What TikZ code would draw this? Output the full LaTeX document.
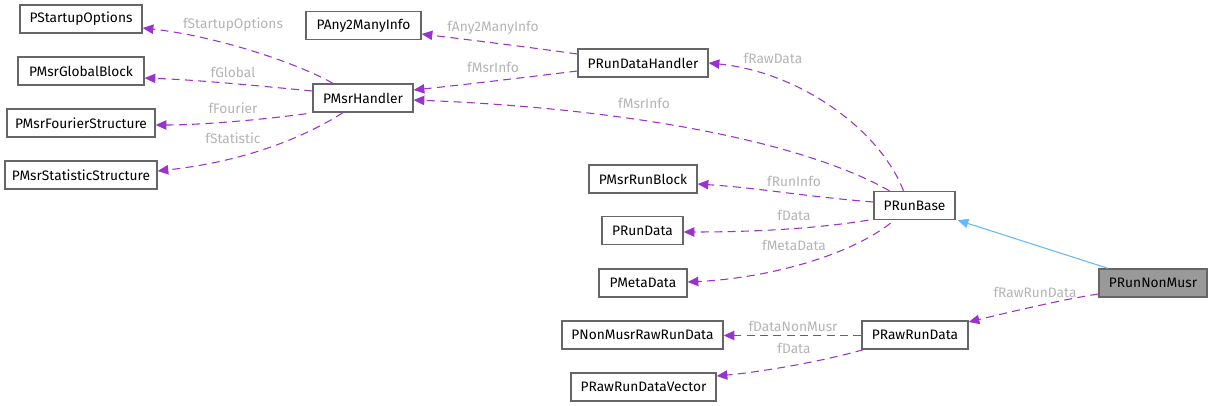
\documentclass[tikz,border=0pt]{standalone}
\usepackage{fontspec}
\setmainfont{Fira Sans}
\usetikzlibrary{arrows.meta,calc}
\definecolor{edgepurple}{HTML}{9A32CD}
\definecolor{inhblue}{HTML}{63B8FF}
\definecolor{boxgray}{HTML}{666666}
\definecolor{lblgray}{HTML}{B4B4B4}
\definecolor{curfill}{HTML}{999999}
\tikzset{
  box/.style={draw=boxgray, line width=1pt, fill=white, minimum height=21pt, inner sep=0pt, font=\fontsize{10.3}{12}\selectfont},
  cur/.style={box, fill=curfill},
  rel/.style={draw=edgepurple, line width=0.8pt, dash pattern=on 6pt off 4pt, -{Triangle[length=8pt,width=7pt]}},
  inh/.style={draw=inhblue, line width=0.8pt, -{Triangle[length=8pt,width=7pt]}},
  lbl/.style={text=lblgray, inner sep=0pt, font=\fontsize{10.3}{12}\selectfont},
}
\begin{document}
\begin{tikzpicture}[x=0.75pt,y=-0.75pt]
\useasboundingbox (0,0) rectangle (1212,406);
% nodes
\node[box, minimum width=91.5pt] (so) at (81,19) {PStartupOptions};
\node[box, minimum width=94.5pt] (gb) at (81,71) {PMsrGlobalBlock};
\node[box, minimum width=111pt] (fs) at (81,123) {PMsrFourierStructure};
\node[box, minimum width=114pt] (ss) at (81,175) {PMsrStatisticStructure};
\node[box, minimum width=75pt] (mh) at (363,98) {PMsrHandler};
\node[box, minimum width=86.25pt] (a2m) at (363.5,25.5) {PAny2ManyInfo};
\node[box, minimum width=97.5pt] (rdh) at (643,63) {PRunDataHandler};
\node[box, minimum width=81pt] (mrb) at (643,179) {PMsrRunBlock};
\node[box, minimum width=60.75pt] (rd) at (642.5,230.5) {PRunData};
\node[box, minimum width=66pt] (md) at (643,283) {PMetaData};
\node[box, minimum width=60.75pt] (rb) at (914.5,205.5) {PRunBase};
\node[box, minimum width=120.75pt] (nmr) at (642.5,335) {PNonMusrRawRunData};
\node[box, minimum width=79.5pt] (rrd) at (915,335) {PRawRunData};
\node[box, minimum width=108.75pt] (rrv) at (643.5,387) {PRawRunDataVector};
\node[cur, minimum width=81pt] (rnm) at (1153,283) {PRunNonMusr};
% edges from PMsrHandler
\draw[rel] ($(mh.north)+(-30,0)$) .. controls (295,62) and (215,36) .. ($(so.east)+(0,9)$);
\draw[rel] ($(mh.west)+(0,-7)$) .. controls (260,86) and (200,80) .. ($(gb.east)+(0,7)$);
\draw[rel] ($(mh.south west)+(-6,1)$) .. controls (260,120) and (200,125) .. ($(fs.east)+(0,2)$);
\draw[rel] ($(mh.south)+(-20,0)$) .. controls (300,140) and (240,162) .. ($(ss.east)+(0,-4)$);
% edges from PRunDataHandler
\draw[rel] ($(rdh.west)+(0,-9)$) .. controls (520,46) and (470,40) .. ($(a2m.east)+(0,8.5)$);
\draw[rel] ($(rdh.west)+(0,8)$) .. controls (520,78) and (470,84) .. ($(mh.east)+(0,-8)$);
% edges from PRunBase
\draw[rel] ($(rb.north)+(-25,0)$) .. controls (800,140) and (620,108) .. ($(mh.east)+(0,2)$);
\draw[rel] ($(rb.north)+(-11,0)$) .. controls (880,130) and (800,72) .. ($(rdh.east)+(0,0)$);
\draw[rel] ($(rb.west)+(0,-3.5)$) .. controls (800,196) and (760,188) .. ($(mrb.east)+(0,5)$);
\draw[rel] ($(rb.south west)+(-5,0)$) .. controls (820,228) and (760,232) .. ($(rd.east)+(0,1.5)$);
\draw[rel] ($(rb.south)+(-24,3)$) .. controls (850,255) and (770,278) .. ($(md.east)+(0,-1)$);
% inheritance
\draw[inh] ($(rnm.north)+(-45,0)$) -- ($(rb.south east)+(2,0)$);
% PRunNonMusr -> PRawRunData
\draw[rel] ($(rnm.west)+(0,11)$) .. controls (1060,300) and (1010,312) .. ($(rrd.east)+(0,-13)$);
% PRawRunData edges
\draw[rel] ($(rrd.west)+(0,0.5)$) -- ($(nmr.east)+(0,0.5)$);
\draw[rel] ($(rrd.south west)+(2,0)$) .. controls (820,362) and (760,372) .. ($(rrv.east)+(0,-11)$);
% labels
\node[lbl] (l1) at (233,25) {fStartupOptions};
\node[lbl] (l2) at (233,72) {fGlobal};
\node[lbl] (l3) at (233,108) {fFourier};
\node[lbl] (l4) at (233,138) {fStatistic};
\node[lbl] (l5) at (493,28) {fAny2ManyInfo};
\node[lbl] (l6) at (493,67) {fMsrInfo};
\node[lbl] (l7) at (644,103) {fMsrInfo};
\node[lbl] (l8) at (773,58) {fRawData};
\node[lbl] (l9) at (794,181) {fRunInfo};
\node[lbl] (l10) at (794,215) {fData};
\node[lbl] (l11) at (794,245) {fMetaData};
\node[lbl] (l12) at (1035,292) {fRawRunData};
\node[lbl] (l13) at (793,326) {fDataNonMusr};
\node[lbl] (l14) at (794,348) {fData};
\end{tikzpicture}
\end{document}
